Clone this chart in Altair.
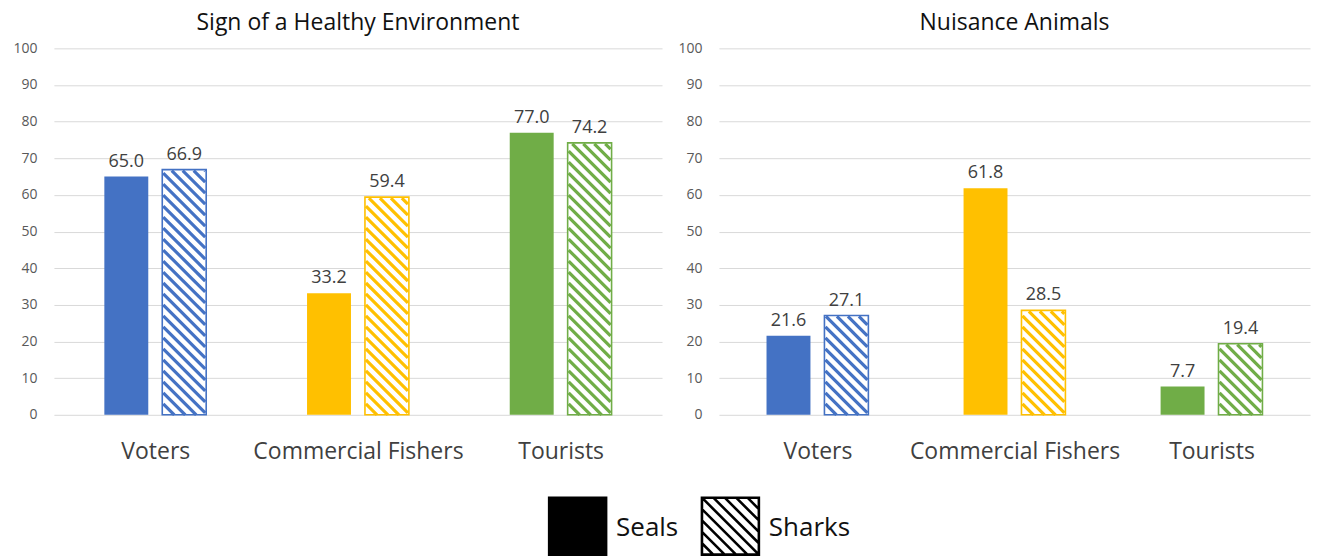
import json
import altair as alt
import pandas as pd

# ---- data -------------------------------------------------------------
groups = ["Voters", "Commercial Fishers", "Tourists"]
group_colors = ["#4472C4", "#FFC000", "#70AD47"]
series = ["Seals", "Sharks"]

healthy_seals = [65.0, 33.2, 77.0]
healthy_sharks = [66.9, 59.4, 74.2]
nuisance_seals = [21.6, 61.8, 7.7]
nuisance_sharks = [27.1, 28.5, 19.4]

y_ticks = list(range(0, 101, 10))

# ---- styling ----------------------------------------------------------
FONT = "Open Sans"
PLOT_H = 367
BAR_PX = 44        # bar width (px)
PAIR_PX = 29       # group centre -> bar centre (px)
HATCH_STEP = 11    # horizontal period of the diagonal hatch (px)
GRID = "#d9d9d9"
KEY_PX = 57        # side of a key swatch (px)


def hatch_path(step=0.4):
    """Unit-square outline with '\\' diagonals, used as the Sharks swatch."""
    parts = ["M-1,-1H1V1H-1Z"]
    c = -2 + step
    while c < 2 - 1e-9:
        if c >= 0:
            x0, y0, x1, y1 = -1 + c, -1, 1, 1 - c
        else:
            x0, y0, x1, y1 = -1, -1 - c, 1 + c, 1
        parts.append(f"M{x0:.3f},{y0:.3f}L{x1:.3f},{y1:.3f}")
        c += step
    return "".join(parts)


def panel(title, seals, sharks, width):
    px_x = width / 3.0
    px_y = PLOT_H / 100.0
    half = BAR_PX / 2 / px_x
    bars, hatch = [], []
    for i, g in enumerate(groups):
        for s, vals, sign in (("Seals", seals, -1), ("Sharks", sharks, 1)):
            v = vals[i]
            c = i + sign * PAIR_PX / px_x
            bars.append(dict(group=g, series=s, value=v, base=0,
                             center=c, left=c - half, right=c + half))
            if s == "Sharks":
                # diagonal stripes clipped to the bar's interior (local px)
                ua, ub = 1.0, BAR_PX - 1.0
                H = v * px_y - 1.0
                k = 1
                while k * HATCH_STEP < (ub - ua) + H:
                    cc = k * HATCH_STEP
                    u0 = max(0.0, cc - H)
                    u1 = min(ub - ua, cc)
                    left = c - half
                    hatch.append(dict(group=g,
                                      x=left + (ua + u0) / px_x, y=(cc - u0) / px_y,
                                      x2=left + (ua + u1) / px_x, y2=(cc - u1) / px_y))
                    k += 1
    bars_df = pd.DataFrame(bars)
    hatch_df = pd.DataFrame(hatch)

    xs = alt.Scale(domain=[-0.5, 2.5], nice=False, zero=False)
    ys = alt.Scale(domain=[0, 100], nice=False)
    cs = alt.Scale(domain=groups, range=group_colors)
    label_expr = json.dumps(groups) + "[datum.value]"
    x_axis = alt.Axis(values=[0, 1, 2], labelExpr=label_expr, title=None,
                      grid=False, ticks=False, domain=False, labelFont=FONT,
                      labelFontSize=23, labelColor="#404040", labelPadding=26,
                      labelOverlap=False, labelFlush=False, labelLimit=400)
    y_axis = alt.Axis(values=y_ticks, title=None, domain=False, ticks=False,
                      gridColor=GRID, gridWidth=1, labelFont=FONT,
                      labelFontSize=14, labelColor="#595959", labelPadding=17,
                      minExtent=41, maxExtent=41)

    base = alt.Chart(bars_df)
    solid = base.transform_filter(alt.datum.series == "Seals").mark_rect().encode(
        x=alt.X("left:Q", scale=xs, axis=x_axis),
        x2="right:Q",
        y=alt.Y("value:Q", scale=ys, axis=y_axis),
        y2="base:Q",
        color=alt.Color("group:N", scale=cs, legend=None),
    )
    sharks_bg = base.transform_filter(alt.datum.series == "Sharks").mark_rect(
        fill="white").encode(
        x=alt.X("left:Q", scale=xs, axis=x_axis),
        x2="right:Q",
        y=alt.Y("value:Q", scale=ys, axis=y_axis),
        y2="base:Q",
    )
    stripes = alt.Chart(hatch_df).mark_rule(strokeWidth=3.2, strokeCap="butt").encode(
        x=alt.X("x:Q", scale=xs, axis=x_axis),
        x2="x2:Q",
        y=alt.Y("y:Q", scale=ys, axis=y_axis),
        y2="y2:Q",
        color=alt.Color("group:N", scale=cs, legend=None),
    )
    outline = base.transform_filter(alt.datum.series == "Sharks").mark_rect(
        fillOpacity=0, strokeWidth=1.6).encode(
        x=alt.X("left:Q", scale=xs, axis=x_axis),
        x2="right:Q",
        y=alt.Y("value:Q", scale=ys, axis=y_axis),
        y2="base:Q",
        stroke=alt.Stroke("group:N", scale=cs, legend=None),
    )
    labels = base.mark_text(font=FONT, fontSize=18, color="#404040",
                            baseline="alphabetic", dy=-10).encode(
        x=alt.X("center:Q", scale=xs, axis=x_axis),
        y=alt.Y("value:Q", scale=ys, axis=y_axis),
        text=alt.Text("value:Q", format=".1f"),
    )

    return alt.layer(solid, sharks_bg, stripes, outline, labels).properties(
        width=width, height=PLOT_H,
        title=alt.TitleParams(title, font=FONT, fontSize=23, fontWeight="normal",
                              color="#111111", anchor="middle",
                              baseline="alphabetic", offset=-12),
    )


def key_row():
    """Seals / Sharks key drawn as two swatches with their names."""
    key_df = pd.DataFrame({"series": series})
    kx = alt.X("series:N", axis=None,
               scale=alt.Scale(domain=series, range=[524.5, 677.5], padding=0))
    swatch = alt.Chart(key_df).mark_point(
        filled=True, opacity=1, size=KEY_PX * KEY_PX, stroke="black",
        strokeWidth=2.6).encode(
        x=kx,
        y=alt.value(KEY_PX / 2),
        fill=alt.Fill("series:N", legend=None,
                      scale=alt.Scale(domain=series, range=["black", "white"])),
        shape=alt.Shape("series:N", legend=None,
                        scale=alt.Scale(domain=series,
                                        range=["M-1,-1H1V1H-1Z", hatch_path()])),
    )
    names = alt.Chart(key_df).mark_text(
        font=FONT, fontSize=26, color="#111111", align="left",
        baseline="middle", dx=KEY_PX / 2 + 10).encode(
        x=kx,
        y=alt.value(KEY_PX / 2 + 2),
        text="series:N",
    )
    return alt.layer(swatch, names).properties(width=820, height=KEY_PX)


left = panel("Sign of a Healthy Environment", healthy_seals, healthy_sharks, 609)
right = panel("Nuisance Animals", nuisance_seals, nuisance_sharks, 592)

chart = alt.vconcat(
    alt.hconcat(left, right, spacing=15),
    key_row(),
    spacing=28,
).properties(
    padding={"left": 12, "top": 12, "right": 28, "bottom": 0},
    background="white",
).configure_view(stroke=None)

chart.save("out.html", embed_options={"renderer": "svg", "actions": False})
